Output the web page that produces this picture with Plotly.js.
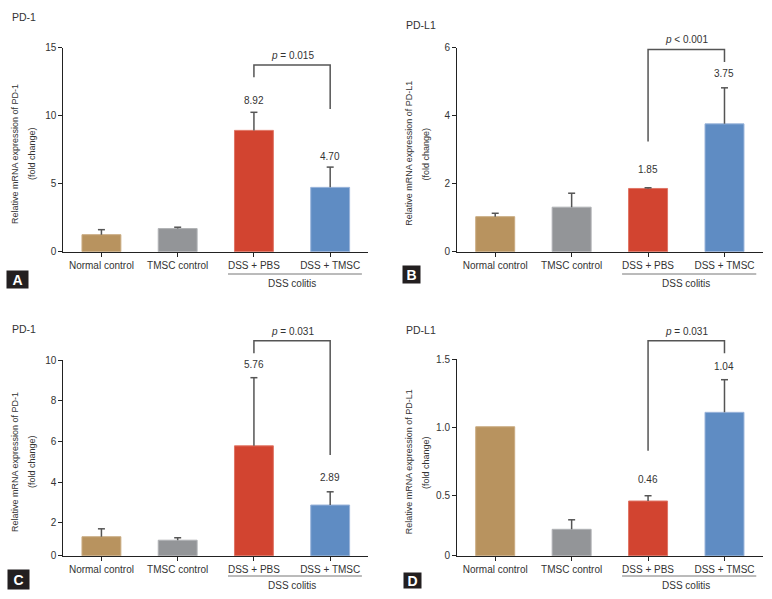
<!DOCTYPE html>
<html>
<head>
<meta charset="utf-8">
<script src="https://cdn.plot.ly/plotly-3.0.1.min.js"></script>
<style>html,body{margin:0;padding:0;background:#fff;}#chart{width:772px;height:599px;}</style>
</head>
<body>
<div id="chart"></div>
<script>
// ---------- data ----------
const categories = ['Normal control', 'TMSC control', 'DSS + PBS', 'DSS + TMSC'];

const meanA  = [1.25, 1.70, 8.92, 4.73];
const upperA = [1.62, 1.80, 10.25, 6.22];
const meanB  = [1.03, 1.31, 1.86, 3.76];
const upperB = [1.13, 1.72, 1.88, 4.82];
const meanC  = [1.31, 1.14, 5.78, 2.87];
const upperC = [1.70, 1.26, 9.13, 3.52];
const meanD  = [1.004, 0.25, 0.458, 1.11];
const upperD = [null, 0.32, 0.497, 1.35];

const valueLabelsA = ['8.92', '4.70'];
const valueLabelsB = ['1.85', '3.75'];
const valueLabelsC = ['5.76', '2.89'];
const valueLabelsD = ['0.46', '1.04'];

const pTextA = '<i>p</i> = 0.015';
const pTextB = '<i>p</i> &lt; 0.001';
const pTextC = '<i>p</i> = 0.031';
const pTextD = '<i>p</i> = 0.031';

// bracket: [left end, bar height, right end] in axis units
const bracketA = [12.82, 13.73, 10.49];
const bracketB = [3.24, 5.95, 5.58];
const bracketC = [10.33, 10.95, 5.33];
const bracketD = [0.828, 1.637, 1.544];

const tickValsA = [0, 5, 10, 15];
const tickTextA = ['0', '5', '10', '15'];
const tickValsB = [0, 2, 4, 6];
const tickTextB = ['0', '2', '4', '6'];
const tickValsC = [0.378, 2, 4, 6, 8, 10];
const tickTextC = ['0', '2', '4', '6', '8', '10'];
const tickValsD = [0.056, 0.5, 1.0, 1.5];
const tickTextD = ['0', '0.5', '1.0', '1.5'];

const geneTitles = ['PD-1', 'PD-L1', 'PD-1', 'PD-L1'];
const yTitleLine2 = '(fold change)';
const panelLetters = ['A', 'B', 'C', 'D'];
const groupLabel = 'DSS colitis';

// ---------- styles / layout ----------
const W = 772, H = 599;
const FONT = 'Liberation Sans, Arial, sans-serif';
const TXT = '#333333';
const barColors = ['#b8935f', '#939598', '#d24430', '#5f8cc3'];
const barEdges  = ['#c9ab80', '#b0b2b5', '#e07565', '#9ab4da'];

const px = x => x / W;
const py = y => 1 - y / H;

const panels = [
  {mean: meanA, upper: upperA, labels: valueLabelsA, labelShift: [12, 11], p: pTextA, pY: 14.46,
   bracket: bracketA, tv: tickValsA, tt: tickTextA, range: [0, 15],
   xd: [63.3, 368.3], yd: [251.7, 47.7], titleX: [15, 32], titleY: 154,
   geneXY: [10, 17.5], letterXY: [17.5, 279], letterWH: [21, 17], groupLineY: 274, groupTextY: 283},
  {mean: meanB, upper: upperB, labels: valueLabelsB, labelShift: [18, 14], p: pTextB, pY: 6.23,
   bracket: bracketB, tv: tickValsB, tt: tickTextB, range: [0, 6],
   xd: [457, 762.7], yd: [251.7, 47.7], titleX: [409.3, 426], titleY: 153.5,
   geneXY: [404, 25], letterXY: [411.5, 275], letterWH: [17, 17], groupLineY: 274, groupTextY: 283},
  {mean: meanC, upper: upperC, labels: valueLabelsC, labelShift: [13, 14.5], p: pTextC, pY: 11.39,
   bracket: bracketC, tv: tickValsC, tt: tickTextC, range: [0.378, 10],
   xd: [63.3, 368.3], yd: [555.7, 360], titleX: [15, 32], titleY: 462,
   geneXY: [10, 328.5], letterXY: [18.5, 579], letterWH: [21, 19], groupLineY: 576, groupTextY: 585.7},
  {mean: meanD, upper: upperD, labels: valueLabelsD, labelShift: [16, 13], p: pTextD, pY: 1.703,
   bracket: bracketD, tv: tickValsD, tt: tickTextD, range: [0.056, 1.5],
   xd: [457, 762.7], yd: [555.7, 359.3], titleX: [409.3, 426], titleY: 462,
   geneXY: [404, 330], letterXY: [412.5, 580], letterWH: [17, 15], groupLineY: 576, groupTextY: 585.7}
];

const traces = [];
const layout = {
  width: W, height: H,
  margin: {l: 0, r: 0, t: 0, b: 0},
  paper_bgcolor: '#ffffff', plot_bgcolor: '#ffffff',
  showlegend: false,
  font: {family: FONT, size: 10, color: TXT},
  shapes: [], annotations: []
};

panels.forEach((p, k) => {
  const n = k === 0 ? '' : String(k + 1);
  const xa = 'x' + n, ya = 'y' + n;
  const errPlus = p.mean.map((m, i) => p.upper[i] == null ? NaN : +(p.upper[i] - m).toFixed(4));
  const errMinus = p.mean.map((m, i) => p.upper[i] == null ? NaN : 0);
  traces.push({
    type: 'bar', x: categories, y: p.mean, xaxis: xa, yaxis: ya,
    width: 0.51,
    marker: {color: barColors, line: {color: barEdges, width: 1}},
    error_y: {type: 'data', symmetric: false, array: errPlus, arrayminus: errMinus,
              color: '#555555', thickness: 1.5, width: 0},
    hoverinfo: 'x+y'
  });
  // caps on the top of the error bars
  traces.push({
    type: 'scatter', mode: 'markers', x: categories, y: p.upper, xaxis: xa, yaxis: ya,
    marker: {symbol: 'line-ew', size: 5, line: {color: '#555555', width: 1.5}},
    hoverinfo: 'skip', cliponaxis: false
  });
  layout['xaxis' + n] = {
    domain: [px(p.xd[0]), px(p.xd[1])], anchor: ya, type: 'category', range: [-0.5, 3.5],
    showline: true, linecolor: '#222', linewidth: 1, ticks: 'outside', ticklen: 4, tickcolor: '#222',
    tickfont: {family: FONT, size: 10, color: TXT}, showgrid: false, zeroline: false, fixedrange: true
  };
  layout['yaxis' + n] = {
    domain: [py(p.yd[0]), py(p.yd[1])], anchor: xa, range: p.range,
    tickmode: 'array', tickvals: p.tv, ticktext: p.tt,
    showline: true, linecolor: '#222', linewidth: 1, ticks: 'outside', ticklen: 4, tickcolor: '#222',
    tickfont: {family: FONT, size: 10, color: TXT}, showgrid: false, zeroline: false, fixedrange: true
  };
  // y-axis title (two lines)
  ['Relative mRNA expression of ' + geneTitles[k], yTitleLine2].forEach((t, j) => {
    layout.annotations.push({xref: 'paper', yref: 'paper', x: px(p.titleX[j]), y: py(p.titleY),
                             text: t, textangle: -90, showarrow: false,
                             font: {family: FONT, size: 9, color: TXT},
                             xanchor: 'center', yanchor: 'middle'});
  });
  const xdRef = xa + ' domain', ydRef = ya + ' domain';
  const xf = i => (i + 0.5) / 4;
  const yf = v => (v - p.range[0]) / (p.range[1] - p.range[0]);
  // bracket
  layout.shapes.push({
    type: 'path', xref: xdRef, yref: ydRef,
    path: 'M ' + xf(2) + ',' + yf(p.bracket[0]) + ' L ' + xf(2) + ',' + yf(p.bracket[1]) +
          ' L ' + xf(3) + ',' + yf(p.bracket[1]) + ' L ' + xf(3) + ',' + yf(p.bracket[2]),
    line: {color: '#555555', width: 1.5}
  });
  layout.annotations.push({
    xref: xdRef, yref: ydRef, x: 0.75, y: yf(p.pY), text: p.p, showarrow: false,
    font: {family: FONT, size: 10, color: TXT}, xanchor: 'center', yanchor: 'middle'
  });
  // value labels over treated groups
  [2, 3].forEach((ci, j) => {
    layout.annotations.push({
      xref: xa, yref: ya, x: categories[ci], y: p.upper[ci], yshift: p.labelShift[j],
      text: p.labels[j], showarrow: false, font: {family: FONT, size: 10, color: TXT},
      xanchor: 'center', yanchor: 'middle'
    });
  });
  // DSS colitis group line & label
  const gy = (p.yd[0] - p.groupLineY) / (p.yd[0] - p.yd[1]);
  const gt = (p.yd[0] - p.groupTextY) / (p.yd[0] - p.yd[1]);
  layout.shapes.push({type: 'line', xref: xdRef, yref: ydRef, x0: 0.54, x1: 0.979, y0: gy, y1: gy,
                      line: {color: '#777777', width: 1}});
  layout.annotations.push({xref: xdRef, yref: ydRef, x: 0.75, y: gt, text: groupLabel, showarrow: false,
                           font: {family: FONT, size: 10, color: TXT}, xanchor: 'center', yanchor: 'middle'});
  // gene title
  layout.annotations.push({xref: 'paper', yref: 'paper', x: px(p.geneXY[0]), y: py(p.geneXY[1]),
                           text: geneTitles[k], showarrow: false, font: {family: FONT, size: 10.5, color: TXT},
                           xanchor: 'left', yanchor: 'middle'});
  // panel letter
  layout.annotations.push({xref: 'paper', yref: 'paper', x: px(p.letterXY[0]), y: py(p.letterXY[1]),
                           text: '<b>' + panelLetters[k] + '</b>', showarrow: false,
                           font: {family: FONT, size: 14, color: '#ffffff'}, bgcolor: '#231f20',
                           width: p.letterWH[0], height: p.letterWH[1], borderpad: 0,
                           xanchor: 'center', yanchor: 'middle'});
});

Plotly.newPlot('chart', traces, layout, {displayModeBar: false, staticPlot: true});
</script>
</body>
</html>
